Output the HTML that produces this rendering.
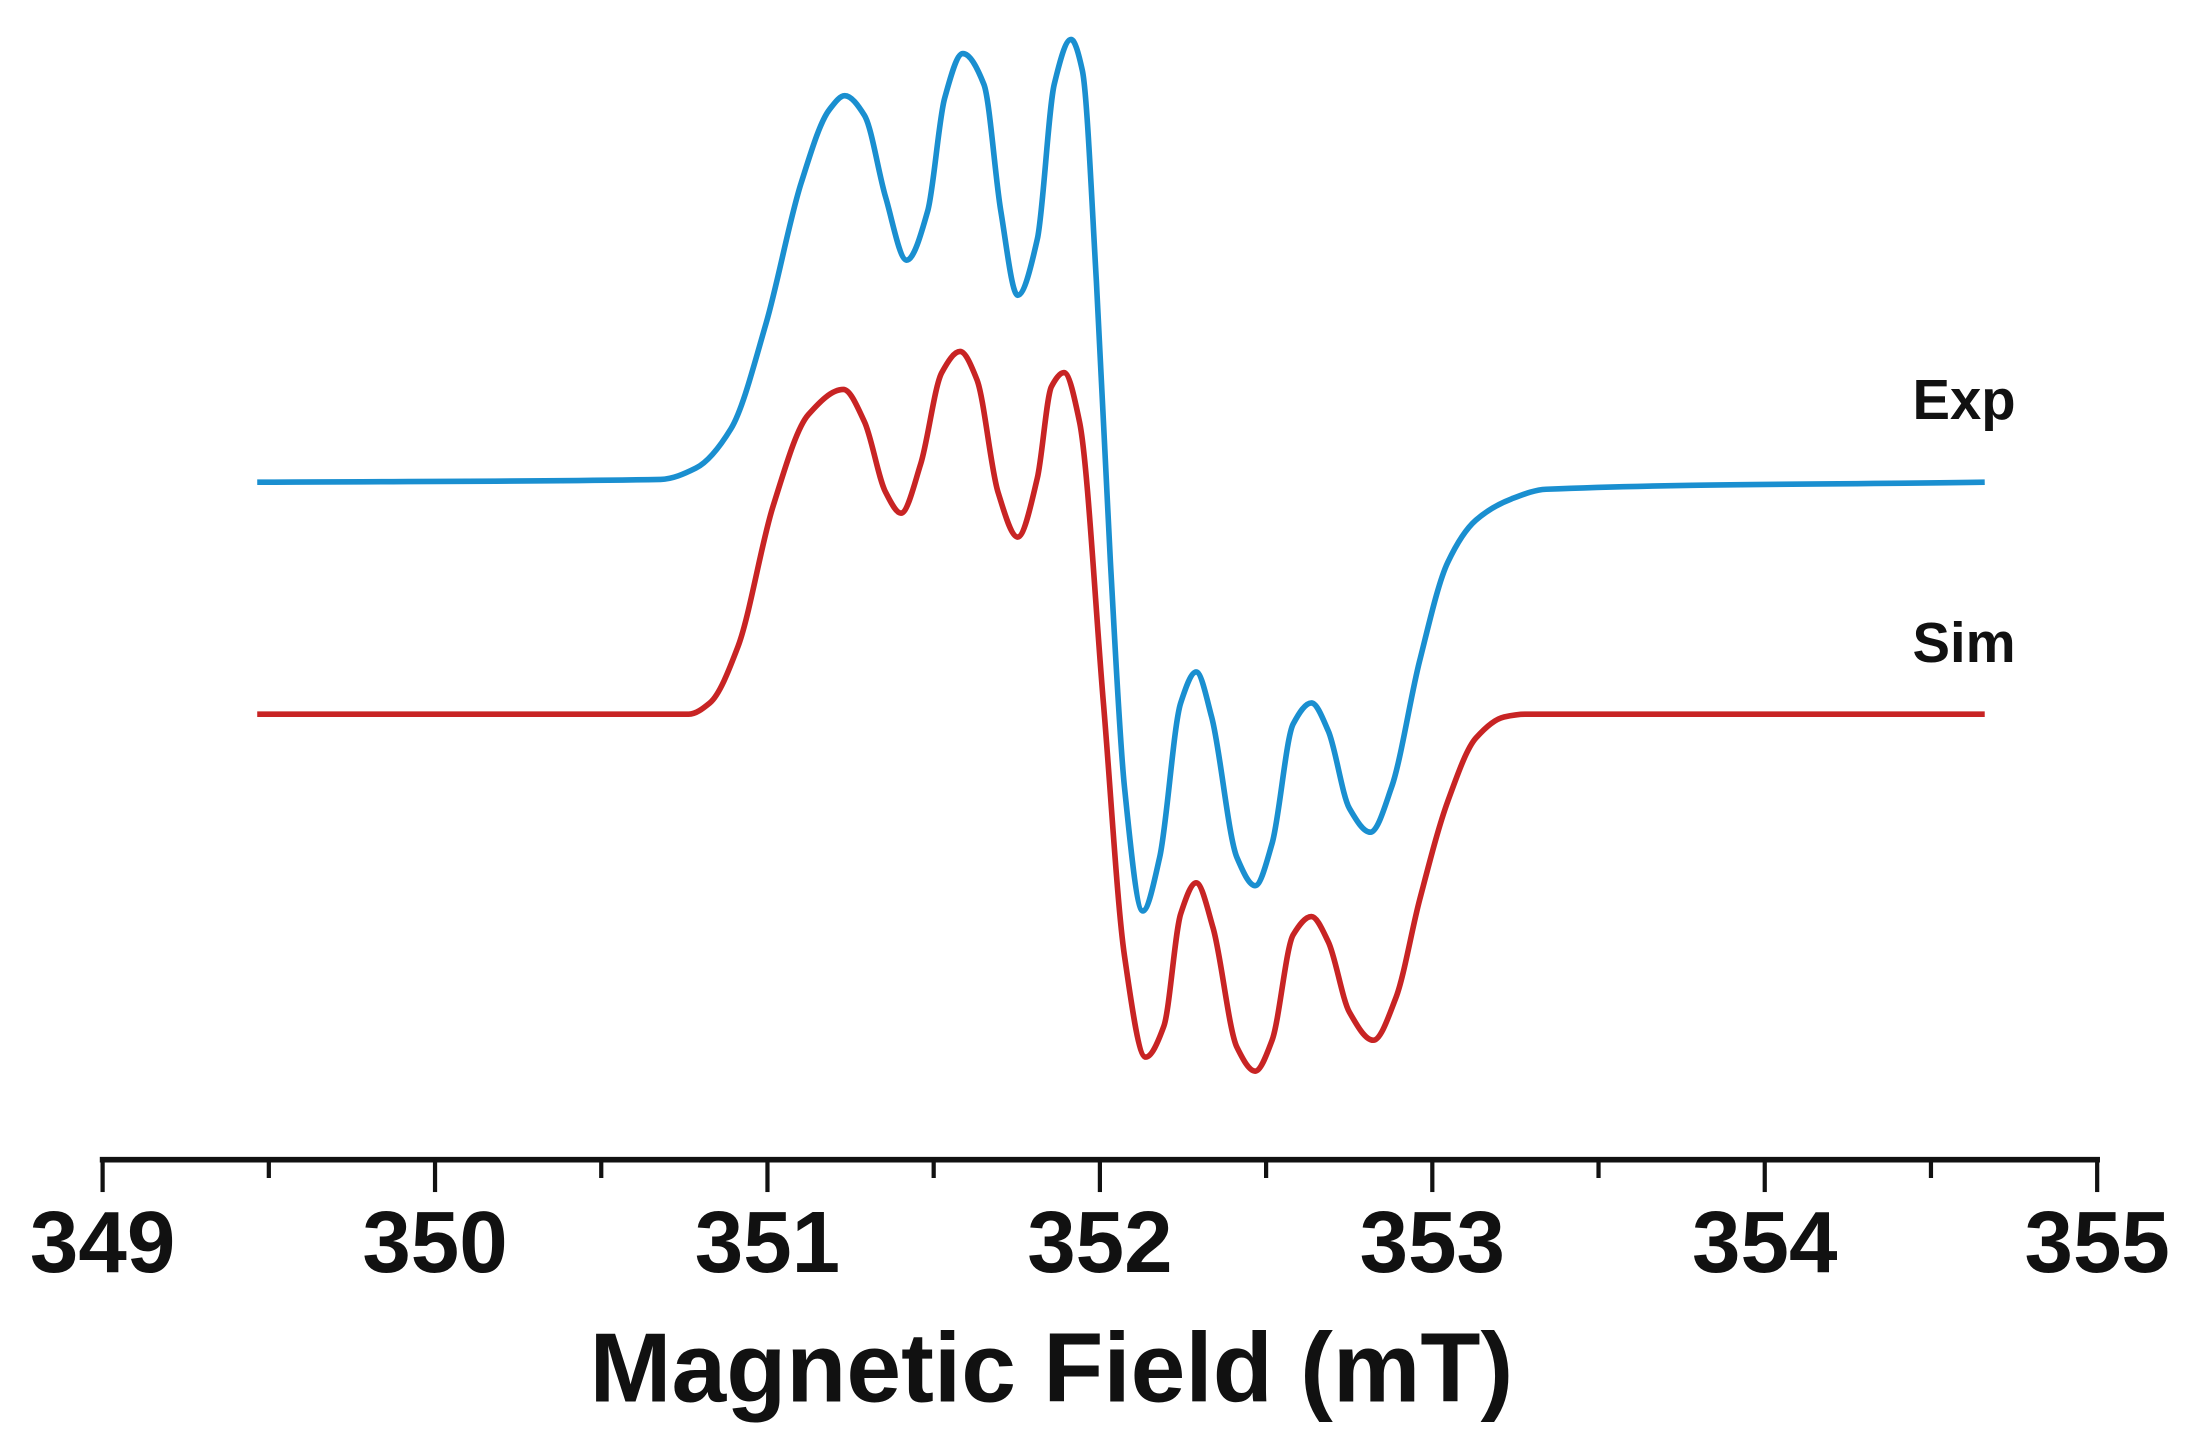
<!DOCTYPE html>
<html><head><meta charset="utf-8"><style>
html,body{margin:0;padding:0;background:#fff;}
svg{display:block;}
text{font-family:"Liberation Sans",Arial,sans-serif;font-weight:bold;fill:#111;}
</style></head><body>
<svg id="s" width="2204" height="1455" viewBox="0 0 1568 1035" xmlns="http://www.w3.org/2000/svg">
<rect width="1568" height="1035" fill="#fff"/>
<path id="blue" fill="none" stroke="#1a8fd0" stroke-width="4" stroke-linejoin="round"/>
<path id="red" fill="none" stroke="#c82424" stroke-width="4" stroke-linejoin="round"/>
<text x="1434" y="298" font-size="40" text-anchor="end">Exp</text>
<text x="1434" y="471" font-size="40" text-anchor="end">Sim</text>
<line x1="71" y1="825" x2="1494" y2="825" stroke="#111" stroke-width="4"/>
<g id="ticks" stroke="#111" stroke-width="3"></g>
<g font-size="62" text-anchor="middle">
<text x="73" y="905">349</text><text x="309.5" y="905">350</text><text x="546" y="905">351</text>
<text x="782.5" y="905">352</text><text x="1019" y="905">353</text><text x="1255.5" y="905">354</text>
<text x="1492" y="905">355</text>
</g>
<text x="748" y="997" font-size="70" text-anchor="middle">Magnetic Field (mT)</text>
</svg>
<script>
function mono(p){const n=p.length,x=p.map(a=>a[0]),y=p.map(a=>a[1]);const d=[],m=[];
for(let i=0;i<n-1;i++)d.push((y[i+1]-y[i])/(x[i+1]-x[i]));
m[0]=d[0];m[n-1]=d[n-2];
for(let i=1;i<n-1;i++){if(d[i-1]*d[i]<=0)m[i]=0;else{const w1=2*(x[i+1]-x[i])+(x[i]-x[i-1]),w2=(x[i+1]-x[i])+2*(x[i]-x[i-1]);m[i]=(w1+w2)/(w1/d[i-1]+w2/d[i]);}}
let s="M"+x[0]+","+y[0];
for(let i=0;i<n-1;i++){const h=x[i+1]-x[i];s+=" C"+(x[i]+h/3).toFixed(2)+","+(y[i]+m[i]*h/3).toFixed(2)+" "+(x[i+1]-h/3).toFixed(2)+","+(y[i+1]-m[i+1]*h/3).toFixed(2)+" "+x[i+1]+","+y[i+1];}
return s;}
const B=[[183,343],[470,341],[495,333],[520,305],[545,230],[570,130],[590,78],[601,68],[615,82],[630,140],[645,185],[660,150],[672,70],[685,38],[700,60],[712,150],[724,210],[738,170],[750,60],[762,28],[770,50],[780,200],[790,400],[800,560],[813,648],[825,610],[840,500],[851,478],[862,510],[880,610],[893,630],[905,600],[920,515],[933,500],[945,520],[960,575],[975,592],[990,560],[1010,470],[1030,400],[1050,370],[1075,355],[1100,348],[1412,343]];
const R=[[183,508],[490,508],[505,500],[525,460],[550,360],[575,295],[600,277],[615,300],[630,350],[641,365],[655,330],[670,265],[683,250],[695,270],[710,350],[724,382],[738,340],[748,275],[757,265],[768,300],[785,500],[800,680],[815,752],[828,730],[840,650],[851,628],[863,660],[880,745],[893,762],[905,740],[920,665],[933,652],[945,670],[960,720],[977,740],[993,710],[1010,640],[1030,570],[1050,525],[1070,510],[1085,508],[1412,508]];
document.getElementById("blue").setAttribute("d",mono(B));
document.getElementById("red").setAttribute("d",mono(R));
let g=document.getElementById("ticks"),h="";
for(let i=0;i<=12;i++){const x=73+i*118.25;h+='<line x1="'+x+'" y1="825" x2="'+x+'" y2="'+(i%2?838:848)+'"/>';}
g.innerHTML=h;
</script>
</body></html>
